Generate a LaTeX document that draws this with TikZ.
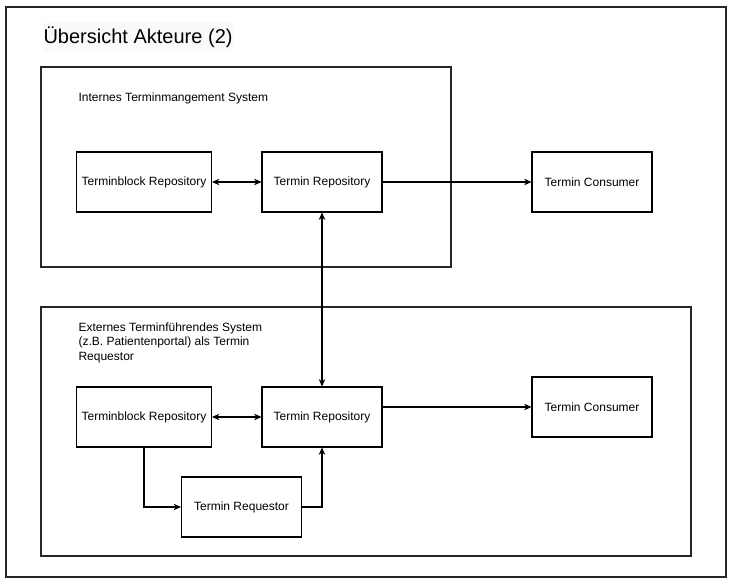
\documentclass[tikz,border=0pt]{standalone}
\usepackage{fontspec}
\setmainfont{Liberation Sans}
\usetikzlibrary{arrows.meta, positioning}

\begin{document}
\begin{tikzpicture}[x=0.025cm, y=-0.025cm, >={Stealth[length=5.2pt,width=4.6pt,inset=1.6pt]}, line width=0.75pt,
  box/.style={draw, fill=white, minimum width=3cm, minimum height=1.5cm, inner sep=0pt, font=\fontsize{8.54}{10.3}\selectfont},
  frame/.style={draw, black!85},
  systemtext/.style={anchor=west, inner sep=0pt, align=left, font=\fontsize{8.54}{10.3}\selectfont}]

                      \useasboundingbox (0,0) rectangle (730,583);
                      \draw[frame] (6,7) rectangle (726,577);
                      \node[anchor=west, fill=gray!4, inner xsep=0pt, inner ysep=3pt, font=\fontsize{14.23}{17}\selectfont] (title) at (43,37) {Übersicht Akteure (2)};

                      % internes System
                      \draw[frame] (41,67) rectangle (451,267);
                      \node[systemtext] (intern) at (78,98) {Internes Terminmangement System};
                      \node[box, minimum width=3.375cm] (tb1) at (144,182) {Terminblock Repository};
                      \node[box] (tr1) at (322,182) {Termin Repository};
                      \node[box] (tc1) at (592,182) {Termin Consumer};

                      % externes System
                      \draw[frame] (41,307) rectangle (691,556);
                      \node[systemtext] (extern) at (78,342.5) {Externes Terminführendes System\\(z.B. Patientenportal) als Termin\\Requestor};
                      \node[box, minimum width=3.375cm] (tb2) at (144,417) {Terminblock Repository};
                      \node[box] (tr2) at (322,417) {Termin Repository};
                      \node[box] (tc2) at (592,407) {Termin Consumer};
                      \node[box] (req) at (241.5,507) {Termin Requestor};

                      \draw[<->] (tb1) -- (tr1);
                      \draw[->] (tr1) -- (tc1);
                      \draw[<->] (tr1) -- (tr2);
                      \draw[<->] (tb2) -- (tr2);
                      \draw[->] (tr2.east |- tc2.west) -- (tc2.west);
                      \draw[->] (tb2.south) |- (req.west);
                      \draw[->] (req.east) -| (tr2.south);

                    \end{tikzpicture}
\end{document}
